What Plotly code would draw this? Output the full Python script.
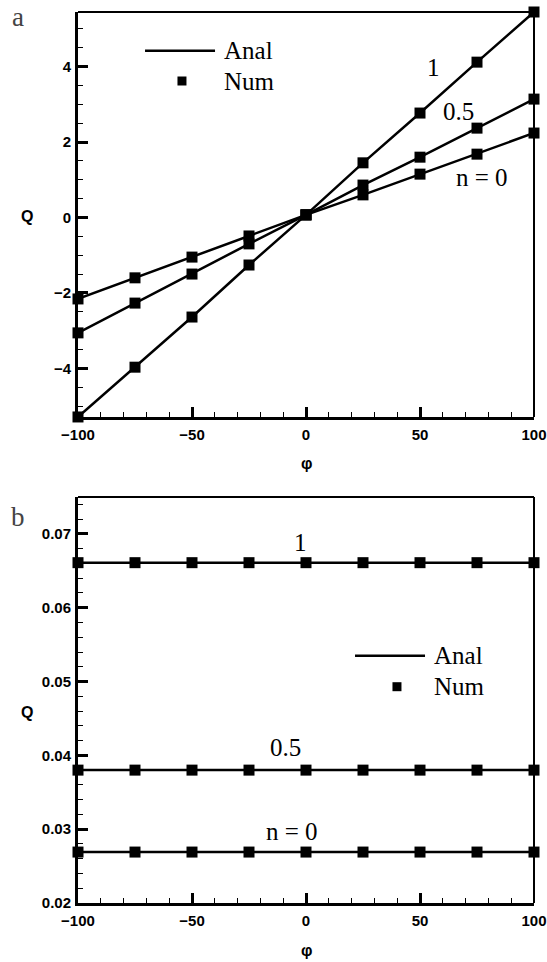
import plotly.graph_objects as go

# ---- data ----
phi = [-100, -75, -50, -25, 0, 25, 50, 75, 100]

# panel a: Q vs phi
qa_n1 = [-5.29, -3.97, -2.64, -1.26, 0.07, 1.45, 2.77, 4.12, 5.45]
qa_n05 = [-3.06, -2.27, -1.50, -0.70, 0.07, 0.86, 1.60, 2.37, 3.14]
qa_n0 = [-2.16, -1.60, -1.05, -0.49, 0.07, 0.60, 1.15, 1.68, 2.24]

# panel b: Q vs phi
qb_n1 = [0.0661] * 9
qb_n05 = [0.0380] * 9
qb_n0 = [0.0269] * 9

series_a = [("n = 0", qa_n0), ("0.5", qa_n05), ("1", qa_n1)]
series_b = [("n = 0", qb_n0), ("0.5", qb_n05), ("1", qb_n1)]

x_ticks = [-100, -50, 0, 50, 100]
ya_ticks = [-4, -2, 0, 2, 4]
yb_ticks = [0.02, 0.03, 0.04, 0.05, 0.06, 0.07]
yb_labels = ["0.02", "0.03", "0.04", "0.05", "0.06", "0.07"]

SERIF = "Liberation Serif"
SANS = "Liberation Sans"

fig = go.Figure()

for name, q in series_a:
    fig.add_trace(go.Scatter(x=phi, y=q, mode="lines", line=dict(color="black", width=2.5),
                             name="Anal", showlegend=False, cliponaxis=False, xaxis="x", yaxis="y"))
    fig.add_trace(go.Scatter(x=phi, y=q, mode="markers",
                             marker=dict(symbol="square", size=11, color="black"),
                             name="Num", showlegend=False, cliponaxis=False, xaxis="x", yaxis="y"))
for name, q in series_b:
    fig.add_trace(go.Scatter(x=phi, y=q, mode="lines", line=dict(color="black", width=2.5),
                             name="Anal", showlegend=False, cliponaxis=False, xaxis="x2", yaxis="y2"))
    fig.add_trace(go.Scatter(x=phi, y=q, mode="markers",
                             marker=dict(symbol="square", size=11, color="black"),
                             name="Num", showlegend=False, cliponaxis=False, xaxis="x2", yaxis="y2"))

tickfont = dict(family=SANS, size=15, color="black", weight="bold")
common_x = dict(range=[-100, 100], tickvals=x_ticks, ticks="inside", ticklen=10, tickwidth=2.5,
                tickcolor="black", showline=True, linewidth=3, linecolor="black", showgrid=False,
                zeroline=False, tickfont=tickfont, ticklabelstandoff=2, automargin=False,
                minor=dict(dtick=10, ticks="inside", ticklen=5, tickwidth=1, tickcolor="black"))
common_y = dict(ticks="inside", ticklen=10, tickwidth=2.5, tickcolor="black", showline=True,
                linewidth=3, linecolor="black", showgrid=False, zeroline=False, tickfont=tickfont,
                ticklabelstandoff=1, automargin=False)

fig.update_layout(
    width=547, height=962,
    margin=dict(l=78, r=13, t=12, b=59, autoexpand=False),
    paper_bgcolor="white", plot_bgcolor="white",
    showlegend=False,
    xaxis=dict(domain=[0, 1], anchor="y", **common_x),
    yaxis=dict(domain=[0.5455, 1], anchor="x", range=[-5.29, 5.45], tickvals=ya_ticks,
               minor=dict(dtick=0.5, ticks="inside", ticklen=5, tickwidth=1, tickcolor="black"),
               **common_y),
    xaxis2=dict(domain=[0, 1], anchor="y2", **common_x),
    yaxis2=dict(domain=[0, 0.4557], anchor="x2", range=[0.02, 0.075], tickvals=yb_ticks,
                ticktext=yb_labels,
                minor=dict(dtick=0.002, tick0=0.02, ticks="inside", ticklen=5, tickwidth=1,
                           tickcolor="black"),
                **common_y),
)

shapes = []
# top / right frame lines
for xr, yr in [("x", "y"), ("x2", "y2")]:
    shapes.append(dict(type="line", xref=f"{xr} domain", yref=f"{yr} domain", x0=0, x1=1, y0=1, y1=1,
                       line=dict(color="black", width=2)))
    shapes.append(dict(type="line", xref=f"{xr} domain", yref=f"{yr} domain", x0=1, x1=1, y0=0, y1=1,
                       line=dict(color="black", width=2)))

# legend keys
legend_a = dict(xl=(-70.6, -39.9), yl=4.42, xm=-54.4, ym=3.62, xt=-36.8, xr="x", yr="y")
legend_b = dict(xl=(21.5, 52.2), yl=0.0535, xm=39.9, ym=0.0493, xt=55.3, xr="x2", yr="y2")
annotations = []
for lg in (legend_a, legend_b):
    shapes.append(dict(type="line", xref=lg["xr"], yref=lg["yr"], x0=lg["xl"][0], x1=lg["xl"][1],
                       y0=lg["yl"], y1=lg["yl"], line=dict(color="black", width=2.5)))
    shapes.append(dict(type="rect", xref=lg["xr"], yref=lg["yr"], xsizemode="pixel", ysizemode="pixel",
                       xanchor=lg["xm"], yanchor=lg["ym"], x0=-4.5, x1=4.5, y0=-4.5, y1=4.5,
                       fillcolor="black", line=dict(width=0)))
    annotations.append(dict(text="Anal", x=lg["xt"], y=lg["yl"], xref=lg["xr"], yref=lg["yr"],
                            xanchor="left", yanchor="middle", showarrow=False,
                            font=dict(family=SERIF, size=25, color="black")))
    annotations.append(dict(text="Num", x=lg["xt"], y=lg["ym"], xref=lg["xr"], yref=lg["yr"],
                            xanchor="left", yanchor="middle", showarrow=False,
                            font=dict(family=SERIF, size=25, color="black")))

# curve labels
labels_a = [("1", 56.1, 3.97), ("0.5", 67.1, 2.80), ("n = 0", 77.2, 1.05)]
labels_b = [("1", -2.6, 0.0689), ("0.5", -9.2, 0.0411), ("n = 0", -6.1, 0.0297)]
for txt, xx, yy in labels_a:
    annotations.append(dict(text=txt, x=xx, y=yy, xref="x", yref="y", showarrow=False,
                            font=dict(family=SERIF, size=25, color="black")))
for txt, xx, yy in labels_b:
    annotations.append(dict(text=txt, x=xx, y=yy, xref="x2", yref="y2", showarrow=False,
                            font=dict(family=SERIF, size=25, color="black")))

# axis titles and panel letters (paper px -> paper fraction)
H = 962 - 12 - 59
W = 547 - 78 - 13
def px(xp, yp):
    return (xp - 78) / W, (903 - yp) / H

for txt, xp, yp, fnt in [
    ("Q", 27, 217, dict(family=SANS, size=16, color="black", weight="bold")),
    ("Q", 27, 712, dict(family=SANS, size=16, color="black", weight="bold")),
    ("φ", 306, 463, dict(family=SANS, size=16, color="black", weight="bold")),
    ("φ", 306, 950, dict(family=SANS, size=16, color="black", weight="bold")),
    ("a", 18, 17, dict(family=SERIF, size=27, color="#444444")),
    ("b", 18, 517, dict(family=SERIF, size=27, color="#444444")),
]:
    xx, yy = px(xp, yp)
    annotations.append(dict(text=txt, x=xx, y=yy, xref="paper", yref="paper", showarrow=False,
                            xanchor="center", yanchor="middle", font=fnt))

fig.update_layout(shapes=shapes, annotations=annotations)
fig.write_html("out.html")
